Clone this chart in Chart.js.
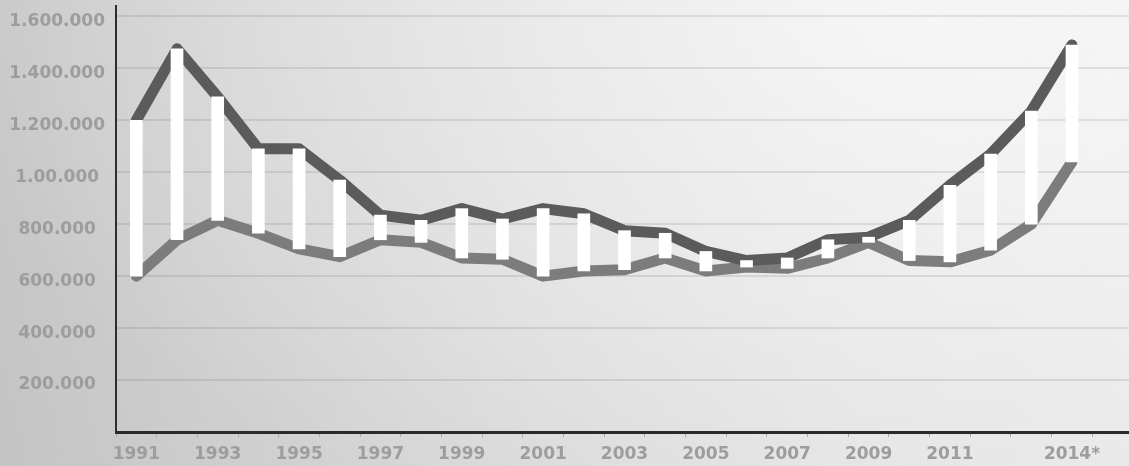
<!DOCTYPE html>
<html>
<head>
<meta charset="utf-8">
<script src="https://cdn.jsdelivr.net/npm/chart.js@4"></script>
<style>
  html, body { margin: 0; padding: 0; width: 1129px; height: 466px; overflow: hidden; }
  body {
    background:
      radial-gradient(ellipse 950px 560px at 80% 6%, rgba(255,255,255,0.55) 0%, rgba(255,255,255,0) 100%),
      linear-gradient(180deg, rgba(255,255,255,0.06) 0%, rgba(0,0,0,0.03) 100%),
      linear-gradient(100deg, #c6c6c6 0%, #d3d3d3 22%, #dfdfdf 48%, #e9e9e9 75%, #eeeeee 100%);
  }
  #wrap { position: relative; width: 1133px; height: 466px; }
</style>
</head>
<body>
<div id="wrap"><canvas id="chart" width="1133" height="466"></canvas></div>
<script>
// Years on the horizontal axis
const years = ['1991','1992','1993','1994','1995','1996','1997','1998','1999','2000',
               '2001','2002','2003','2004','2005','2006','2007','2008','2009','2010',
               '2011','2012','2013','2014'];

// Labels printed under the axis (every other year, last one marked as estimate)
const xTickLabels = ['1991','','1993','','1995','','1997','','1999','',
                     '2001','','2003','','2005','','2007','','2009','',
                     '2011','','','2014*'];

// Upper series (dark line) and lower series (lighter line)
const upperValues = [1200000, 1475000, 1290000, 1090000, 1090000, 970000, 835000, 815000, 860000, 820000,
                     860000, 840000, 775000, 765000, 695000, 660000, 670000, 740000, 750000, 815000,
                     950000, 1070000, 1235000, 1490000];
const lowerValues = [600000, 740000, 815000, 765000, 705000, 675000, 740000, 730000, 670000, 665000,
                     600000, 620000, 625000, 670000, 620000, 635000, 630000, 670000, 730000, 660000,
                     655000, 700000, 800000, 1040000];

// Value axis ticks and their printed text
const yTickValues = [0, 200000, 400000, 600000, 800000, 1000000, 1200000, 1400000, 1600000];
const yTickLabels = ['', '200.000', '400.000', '600.000', '800.000', '1.00.000', '1.200.000', '1.400.000', '1.600.000'];

const labelFont = { family: 'DejaVu Sans', weight: 'bold', size: 17 };
const labelColor = '#9d9d9d';

// an empty slot after 2014 lets the axis run on to the right edge
const categories = years.concat(['']);

new Chart(document.getElementById('chart'), {
  data: {
    labels: categories,
    datasets: [
      {
        type: 'bar',
        data: years.map((_, i) => [lowerValues[i], upperValues[i]]),
        backgroundColor: '#ffffff',
        borderWidth: 0,
        barThickness: 12,
        order: 0
      },
      {
        type: 'line',
        data: upperValues,
        borderColor: '#5b5b5b',
        borderWidth: 11,
        pointRadius: 0,
        tension: 0,
        borderJoinStyle: 'round',
        borderCapStyle: 'round',
        order: 1
      },
      {
        type: 'line',
        data: lowerValues,
        borderColor: '#7c7c7c',
        borderWidth: 11,
        pointRadius: 0,
        tension: 0,
        borderJoinStyle: 'round',
        borderCapStyle: 'round',
        order: 2
      }
    ]
  },
  options: {
    responsive: false,
    animation: false,
    devicePixelRatio: 1,
    layout: { padding: { top: 6, left: 0, right: 0, bottom: 0 } },
    plugins: { legend: { display: false }, tooltip: { enabled: false } },
    scales: {
      x: {
        type: 'category',
        offset: true,
        grid: { drawOnChartArea: false, drawTicks: true, tickLength: 5, color: '#ababab', lineWidth: 1, offset: true },
        border: { display: true, color: '#2a2a2a', width: 3 },
        ticks: {
          autoSkip: false,
          maxRotation: 0,
          padding: 7,
          color: labelColor,
          font: labelFont,
          callback: (v, i) => xTickLabels[i] || ''
        },
        afterFit: (s) => { s.height = 34; s.paddingLeft = 0; s.paddingRight = 0; }
      },
      y: {
        min: 0,
        max: 1640000,
        grid: { color: 'rgba(0,0,0,0.09)', lineWidth: 2, drawTicks: false },
        border: { display: true, color: '#2e2e2e', width: 2 },
        ticks: {
          autoSkip: false,
          crossAlign: 'center',
          padding: 11,
          labelOffset: 5,
          color: labelColor,
          font: labelFont,
          callback: (v) => {
            const k = yTickValues.indexOf(v);
            return k >= 0 ? yTickLabels[k] : '';
          }
        },
        // gridlines every 200.000 while the axis itself runs a little higher
        afterBuildTicks: (s) => { s.ticks = yTickValues.map(v => ({ value: v })); },
        afterFit: (s) => { s.width = 116; s.paddingTop = 0; s.paddingBottom = 0; }
      }
    }
  }
});
</script>
</body>
</html>
